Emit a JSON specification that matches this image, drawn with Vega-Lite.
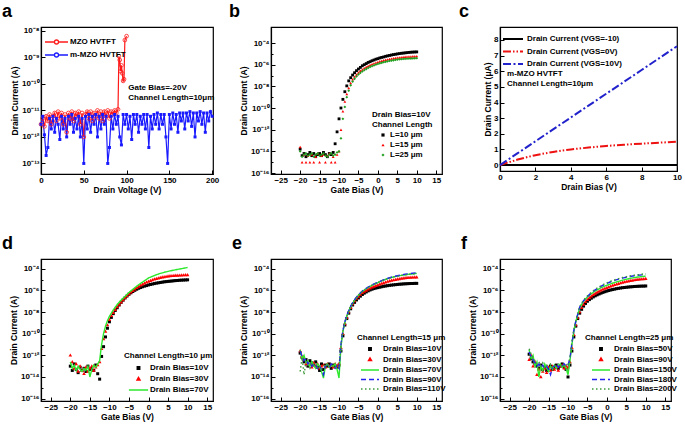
{
"$schema":"https://vega.github.io/schema/vega-lite/v6.json",
"padding":{"left":1,"top":2,"right":2,"bottom":2},
"background":"white",
"columns":3,
"spacing":{"row":85,"column":58},
"bounds":"flush",
"resolve":{"scale":{"x":"independent","y":"independent","color":"independent","shape":"independent","strokeDash":"independent"},"legend":{"color":"independent","shape":"independent","strokeDash":"independent"}},
"datasets":{
"pa":[
{"s":"MZO","x":0,"y":3e-12},{"s":"MZO","x":2,"y":5e-12},{"s":"MZO","x":4,"y":2.5e-12},{"s":"MZO","x":6,"y":6e-12},{"s":"MZO","x":8,"y":4e-12},{"s":"MZO","x":10,"y":7e-12},{"s":"MZO","x":12,"y":3e-12},{"s":"MZO","x":14,"y":6e-12},{"s":"MZO","x":16,"y":8e-12},{"s":"MZO","x":18,"y":4e-12},{"s":"MZO","x":20,"y":9e-12},{"s":"MZO","x":22,"y":5e-12},{"s":"MZO","x":24,"y":8e-12},{"s":"MZO","x":26,"y":3e-12},{"s":"MZO","x":28,"y":7e-12},{"s":"MZO","x":30,"y":1.5e-12},{"s":"MZO","x":32,"y":8e-12},{"s":"MZO","x":34,"y":5e-12},{"s":"MZO","x":36,"y":9e-12},{"s":"MZO","x":38,"y":4e-12},{"s":"MZO","x":40,"y":8e-12},{"s":"MZO","x":42,"y":6e-12},{"s":"MZO","x":44,"y":9e-12},{"s":"MZO","x":46,"y":3e-12},{"s":"MZO","x":48,"y":8e-12},{"s":"MZO","x":50,"y":1e-12},{"s":"MZO","x":52,"y":7e-12},{"s":"MZO","x":54,"y":9e-12},{"s":"MZO","x":56,"y":5e-12},{"s":"MZO","x":58,"y":9e-12},{"s":"MZO","x":60,"y":4e-12},{"s":"MZO","x":62,"y":8e-12},{"s":"MZO","x":64,"y":6e-12},{"s":"MZO","x":66,"y":1e-11},{"s":"MZO","x":68,"y":5e-12},{"s":"MZO","x":70,"y":9e-12},{"s":"MZO","x":72,"y":4e-12},{"s":"MZO","x":74,"y":9e-12},{"s":"MZO","x":76,"y":6e-12},{"s":"MZO","x":78,"y":1e-11},{"s":"MZO","x":80,"y":5e-12},{"s":"MZO","x":82,"y":9e-12},{"s":"MZO","x":84,"y":7e-12},{"s":"MZO","x":86,"y":1e-11},{"s":"MZO","x":88,"y":8e-12},{"s":"MZO","x":90,"y":1.1e-11},{"s":"MZO","x":91,"y":1.1e-9},{"s":"MZO","x":92,"y":8e-10},{"s":"MZO","x":93,"y":3e-10},{"s":"MZO","x":94,"y":5e-10},{"s":"MZO","x":95,"y":2.5e-10},{"s":"MZO","x":96,"y":1.3e-10},{"s":"MZO","x":97,"y":1.5e-10},{"s":"MZO","x":98,"y":4.5e-9},{"s":"MZO","x":100,"y":6.3e-9},
{"s":"m-MZO","x":0,"y":3e-12},{"s":"m-MZO","x":2,"y":6e-12},{"s":"m-MZO","x":4,"y":1.2e-12},{"s":"m-MZO","x":6,"y":2e-13},{"s":"m-MZO","x":8,"y":4e-13},{"s":"m-MZO","x":10,"y":5e-12},{"s":"m-MZO","x":12,"y":2e-12},{"s":"m-MZO","x":14,"y":6e-12},{"s":"m-MZO","x":16,"y":1.5e-12},{"s":"m-MZO","x":18,"y":5e-12},{"s":"m-MZO","x":20,"y":3e-12},{"s":"m-MZO","x":22,"y":8e-13},{"s":"m-MZO","x":24,"y":6e-12},{"s":"m-MZO","x":26,"y":2e-12},{"s":"m-MZO","x":28,"y":5e-12},{"s":"m-MZO","x":30,"y":1e-12},{"s":"m-MZO","x":32,"y":6e-12},{"s":"m-MZO","x":34,"y":3e-12},{"s":"m-MZO","x":36,"y":7e-12},{"s":"m-MZO","x":38,"y":1.5e-12},{"s":"m-MZO","x":40,"y":5e-12},{"s":"m-MZO","x":42,"y":2e-12},{"s":"m-MZO","x":44,"y":6e-12},{"s":"m-MZO","x":46,"y":1e-12},{"s":"m-MZO","x":48,"y":5e-12},{"s":"m-MZO","x":50,"y":1e-13},{"s":"m-MZO","x":52,"y":6e-12},{"s":"m-MZO","x":54,"y":2e-12},{"s":"m-MZO","x":56,"y":7e-12},{"s":"m-MZO","x":58,"y":1.5e-12},{"s":"m-MZO","x":60,"y":6e-12},{"s":"m-MZO","x":62,"y":3e-12},{"s":"m-MZO","x":64,"y":7e-12},{"s":"m-MZO","x":66,"y":1e-12},{"s":"m-MZO","x":68,"y":6e-12},{"s":"m-MZO","x":70,"y":2e-12},{"s":"m-MZO","x":72,"y":7e-12},{"s":"m-MZO","x":74,"y":3e-12},{"s":"m-MZO","x":76,"y":6e-12},{"s":"m-MZO","x":78,"y":1e-13},{"s":"m-MZO","x":80,"y":4e-13},{"s":"m-MZO","x":82,"y":6e-12},{"s":"m-MZO","x":84,"y":2e-12},{"s":"m-MZO","x":86,"y":7e-12},{"s":"m-MZO","x":88,"y":3e-12},{"s":"m-MZO","x":90,"y":6e-12},{"s":"m-MZO","x":92,"y":1e-12},{"s":"m-MZO","x":94,"y":5e-13},{"s":"m-MZO","x":96,"y":7e-12},{"s":"m-MZO","x":98,"y":3e-12},{"s":"m-MZO","x":100,"y":7e-12},{"s":"m-MZO","x":102,"y":2e-12},{"s":"m-MZO","x":104,"y":6e-12},{"s":"m-MZO","x":106,"y":8e-13},{"s":"m-MZO","x":108,"y":7e-12},{"s":"m-MZO","x":110,"y":3e-12},{"s":"m-MZO","x":112,"y":7e-12},{"s":"m-MZO","x":114,"y":1.5e-12},{"s":"m-MZO","x":116,"y":6e-12},{"s":"m-MZO","x":118,"y":3e-12},{"s":"m-MZO","x":120,"y":7e-12},{"s":"m-MZO","x":122,"y":2e-12},{"s":"m-MZO","x":124,"y":7e-12},{"s":"m-MZO","x":126,"y":4e-13},{"s":"m-MZO","x":128,"y":6e-12},{"s":"m-MZO","x":130,"y":2e-12},{"s":"m-MZO","x":132,"y":7e-12},{"s":"m-MZO","x":134,"y":3e-12},{"s":"m-MZO","x":136,"y":8e-12},{"s":"m-MZO","x":138,"y":2e-12},{"s":"m-MZO","x":140,"y":7e-12},{"s":"m-MZO","x":142,"y":3e-12},{"s":"m-MZO","x":144,"y":7e-12},{"s":"m-MZO","x":146,"y":1e-12},{"s":"m-MZO","x":148,"y":1e-13},{"s":"m-MZO","x":150,"y":7e-12},{"s":"m-MZO","x":152,"y":2e-12},{"s":"m-MZO","x":154,"y":8e-12},{"s":"m-MZO","x":156,"y":3e-12},{"s":"m-MZO","x":158,"y":7e-12},{"s":"m-MZO","x":160,"y":1.5e-12},{"s":"m-MZO","x":162,"y":8e-12},{"s":"m-MZO","x":164,"y":4e-12},{"s":"m-MZO","x":166,"y":8e-12},{"s":"m-MZO","x":168,"y":2e-12},{"s":"m-MZO","x":170,"y":8e-12},{"s":"m-MZO","x":172,"y":4e-12},{"s":"m-MZO","x":174,"y":9e-12},{"s":"m-MZO","x":176,"y":2.5e-12},{"s":"m-MZO","x":178,"y":8e-12},{"s":"m-MZO","x":180,"y":1e-12},{"s":"m-MZO","x":182,"y":8e-12},{"s":"m-MZO","x":184,"y":4e-12},{"s":"m-MZO","x":186,"y":9e-12},{"s":"m-MZO","x":188,"y":3e-12},{"s":"m-MZO","x":190,"y":8e-12},{"s":"m-MZO","x":192,"y":1.5e-12},{"s":"m-MZO","x":194,"y":8e-12},{"s":"m-MZO","x":196,"y":4e-12},{"s":"m-MZO","x":198,"y":9e-12},{"s":"m-MZO","x":200,"y":6e-12}
],
"pb":[
{"s":"10","x":-20,"y":1.6e-14},{"s":"10","x":-19.5,"y":4e-15},{"s":"10","x":-19,"y":6.3e-15},{"s":"10","x":-18.5,"y":3.2e-15},{"s":"10","x":-18,"y":5e-15},{"s":"10","x":-17.5,"y":7.9e-15},{"s":"10","x":-17,"y":4e-15},{"s":"10","x":-16.5,"y":6.3e-15},{"s":"10","x":-16,"y":3.2e-15},{"s":"10","x":-15.5,"y":5e-15},{"s":"10","x":-15,"y":6.3e-15},{"s":"10","x":-14.5,"y":4e-15},{"s":"10","x":-14,"y":7.9e-15},{"s":"10","x":-13.5,"y":5e-15},{"s":"10","x":-13,"y":3.2e-15},{"s":"10","x":-12.5,"y":6.3e-15},{"s":"10","x":-12,"y":5e-15},{"s":"10","x":-11.5,"y":7.9e-15},{"s":"10","x":-11,"y":5e-14},{"s":"10","x":-10.5,"y":6.3e-13},{"s":"10","x":-10,"y":1e-11},{"s":"10","x":-9.5,"y":1e-10},{"s":"10","x":-9,"y":6.3e-10},{"s":"10","x":-8.5,"y":3.2e-9},{"s":"10","x":-8,"y":1.1e-8},{"s":"10","x":-7.5,"y":3.2e-8},{"s":"10","x":-7,"y":6.3e-8},{"s":"10","x":-6.5,"y":1.1e-7},{"s":"10","x":-6,"y":1.8e-7},{"s":"10","x":-5.5,"y":2.8e-7},{"s":"10","x":-5,"y":4e-7},{"s":"10","x":-4.5,"y":5.6e-7},{"s":"10","x":-4,"y":7.9e-7},{"s":"10","x":-3.5,"y":1e-6},{"s":"10","x":-3,"y":1.26e-6},{"s":"10","x":-2.5,"y":1.6e-6},{"s":"10","x":-2,"y":1.9e-6},{"s":"10","x":-1.5,"y":2.3e-6},{"s":"10","x":-1,"y":2.7e-6},{"s":"10","x":-0.5,"y":3.2e-6},{"s":"10","x":0,"y":3.6e-6},{"s":"10","x":0.5,"y":4.2e-6},{"s":"10","x":1,"y":4.7e-6},{"s":"10","x":1.5,"y":5.2e-6},{"s":"10","x":2,"y":5.9e-6},{"s":"10","x":2.5,"y":6.5e-6},{"s":"10","x":3,"y":7.1e-6},{"s":"10","x":3.5,"y":7.8e-6},{"s":"10","x":4,"y":8.5e-6},{"s":"10","x":4.5,"y":9.1e-6},{"s":"10","x":5,"y":9.8e-6},{"s":"10","x":5.5,"y":1.05e-5},{"s":"10","x":6,"y":1.12e-5},{"s":"10","x":6.5,"y":1.17e-5},{"s":"10","x":7,"y":1.23e-5},{"s":"10","x":7.5,"y":1.29e-5},{"s":"10","x":8,"y":1.35e-5},{"s":"10","x":8.5,"y":1.41e-5},{"s":"10","x":9,"y":1.45e-5},{"s":"10","x":9.5,"y":1.48e-5},{"s":"10","x":10,"y":1.51e-5},
{"s":"15","x":-20,"y":2.5e-14},{"s":"15","x":-19.5,"y":1e-15},{"s":"15","x":-19,"y":5e-15},{"s":"15","x":-18.5,"y":1e-15},{"s":"15","x":-18,"y":4e-15},{"s":"15","x":-17.5,"y":1e-15},{"s":"15","x":-17,"y":5e-15},{"s":"15","x":-16.5,"y":1e-15},{"s":"15","x":-16,"y":3.2e-15},{"s":"15","x":-15.5,"y":6.3e-15},{"s":"15","x":-15,"y":1e-15},{"s":"15","x":-14.5,"y":4e-15},{"s":"15","x":-14,"y":5e-15},{"s":"15","x":-13.5,"y":1e-15},{"s":"15","x":-13,"y":4e-15},{"s":"15","x":-12.5,"y":6.3e-15},{"s":"15","x":-12,"y":1e-15},{"s":"15","x":-11.5,"y":3.2e-15},{"s":"15","x":-11,"y":1e-15},{"s":"15","x":-10.5,"y":5e-15},{"s":"15","x":-10,"y":1e-14},{"s":"15","x":-9.5,"y":1e-12},{"s":"15","x":-9,"y":5e-11},{"s":"15","x":-8.5,"y":4e-10},{"s":"15","x":-8,"y":2e-9},{"s":"15","x":-7.5,"y":7.1e-9},{"s":"15","x":-7,"y":2e-8},{"s":"15","x":-6.5,"y":4.5e-8},{"s":"15","x":-6,"y":7.9e-8},{"s":"15","x":-5.5,"y":1.26e-7},{"s":"15","x":-5,"y":1.9e-7},{"s":"15","x":-4.5,"y":2.7e-7},{"s":"15","x":-4,"y":3.6e-7},{"s":"15","x":-3.5,"y":4.8e-7},{"s":"15","x":-3,"y":6e-7},{"s":"15","x":-2.5,"y":7.6e-7},{"s":"15","x":-2,"y":9.3e-7},{"s":"15","x":-1.5,"y":1.12e-6},{"s":"15","x":-1,"y":1.32e-6},{"s":"15","x":-0.5,"y":1.55e-6},{"s":"15","x":0,"y":1.78e-6},{"s":"15","x":0.5,"y":2.04e-6},{"s":"15","x":1,"y":2.29e-6},{"s":"15","x":1.5,"y":2.57e-6},{"s":"15","x":2,"y":2.82e-6},{"s":"15","x":2.5,"y":3.09e-6},{"s":"15","x":3,"y":3.39e-6},{"s":"15","x":3.5,"y":3.63e-6},{"s":"15","x":4,"y":3.89e-6},{"s":"15","x":4.5,"y":4.17e-6},{"s":"15","x":5,"y":4.47e-6},{"s":"15","x":5.5,"y":4.68e-6},{"s":"15","x":6,"y":4.9e-6},{"s":"15","x":6.5,"y":5.13e-6},{"s":"15","x":7,"y":5.37e-6},{"s":"15","x":7.5,"y":5.5e-6},{"s":"15","x":8,"y":5.62e-6},{"s":"15","x":8.5,"y":5.75e-6},{"s":"15","x":9,"y":5.89e-6},{"s":"15","x":9.5,"y":6.03e-6},{"s":"15","x":10,"y":6.17e-6},
{"s":"25","x":-20,"y":1e-14},{"s":"25","x":-19.5,"y":3.2e-15},{"s":"25","x":-19,"y":5e-15},{"s":"25","x":-18.5,"y":6.3e-15},{"s":"25","x":-18,"y":4e-15},{"s":"25","x":-17.5,"y":5e-15},{"s":"25","x":-17,"y":6.3e-15},{"s":"25","x":-16.5,"y":3.2e-15},{"s":"25","x":-16,"y":5e-15},{"s":"25","x":-15.5,"y":6.3e-15},{"s":"25","x":-15,"y":4e-15},{"s":"25","x":-14.5,"y":5e-15},{"s":"25","x":-14,"y":6.3e-15},{"s":"25","x":-13.5,"y":4e-15},{"s":"25","x":-13,"y":3.2e-15},{"s":"25","x":-12.5,"y":5e-15},{"s":"25","x":-12,"y":6.3e-15},{"s":"25","x":-11.5,"y":4e-15},{"s":"25","x":-11,"y":5e-15},{"s":"25","x":-10.5,"y":7.9e-15},{"s":"25","x":-10,"y":1e-14},{"s":"25","x":-9.5,"y":1.6e-13},{"s":"25","x":-9,"y":1e-11},{"s":"25","x":-8.5,"y":1.26e-10},{"s":"25","x":-8,"y":1e-9},{"s":"25","x":-7.5,"y":4e-9},{"s":"25","x":-7,"y":1.26e-8},{"s":"25","x":-6.5,"y":2.8e-8},{"s":"25","x":-6,"y":5e-8},{"s":"25","x":-5.5,"y":8.3e-8},{"s":"25","x":-5,"y":1.26e-7},{"s":"25","x":-4.5,"y":1.78e-7},{"s":"25","x":-4,"y":2.4e-7},{"s":"25","x":-3.5,"y":3.16e-7},{"s":"25","x":-3,"y":4e-7},{"s":"25","x":-2.5,"y":5e-7},{"s":"25","x":-2,"y":6.2e-7},{"s":"25","x":-1.5,"y":7.4e-7},{"s":"25","x":-1,"y":8.7e-7},{"s":"25","x":-0.5,"y":1.02e-6},{"s":"25","x":0,"y":1.17e-6},{"s":"25","x":0.5,"y":1.35e-6},{"s":"25","x":1,"y":1.51e-6},{"s":"25","x":1.5,"y":1.7e-6},{"s":"25","x":2,"y":1.86e-6},{"s":"25","x":2.5,"y":2.04e-6},{"s":"25","x":3,"y":2.24e-6},{"s":"25","x":3.5,"y":2.4e-6},{"s":"25","x":4,"y":2.57e-6},{"s":"25","x":4.5,"y":2.75e-6},{"s":"25","x":5,"y":2.95e-6},{"s":"25","x":5.5,"y":3.09e-6},{"s":"25","x":6,"y":3.24e-6},{"s":"25","x":6.5,"y":3.39e-6},{"s":"25","x":7,"y":3.47e-6},{"s":"25","x":7.5,"y":3.55e-6},{"s":"25","x":8,"y":3.63e-6},{"s":"25","x":8.5,"y":3.72e-6},{"s":"25","x":9,"y":3.8e-6},{"s":"25","x":9.5,"y":3.89e-6},{"s":"25","x":10,"y":3.98e-6}
],
"pc":[
{"s":"-10","x":0,"y":0},{"s":"-10","x":5,"y":0},{"s":"-10","x":10,"y":0},
{"s":"0V","x":0,"y":0},{"s":"0V","x":0.5,"y":0.18},{"s":"0V","x":1,"y":0.35},{"s":"0V","x":1.5,"y":0.5},{"s":"0V","x":2,"y":0.63},{"s":"0V","x":2.5,"y":0.74},{"s":"0V","x":3,"y":0.84},{"s":"0V","x":3.5,"y":0.93},{"s":"0V","x":4,"y":1.0},{"s":"0V","x":5,"y":1.12},{"s":"0V","x":6,"y":1.22},{"s":"0V","x":7,"y":1.3},{"s":"0V","x":8,"y":1.37},{"s":"0V","x":9,"y":1.43},{"s":"0V","x":10,"y":1.5},
{"s":"10V","x":0,"y":0},{"s":"10V","x":1,"y":0.76},{"s":"10V","x":2,"y":1.52},{"s":"10V","x":3,"y":2.28},{"s":"10V","x":4,"y":3.04},{"s":"10V","x":5,"y":3.8},{"s":"10V","x":6,"y":4.56},{"s":"10V","x":7,"y":5.32},{"s":"10V","x":8,"y":6.08},{"s":"10V","x":9,"y":6.84},{"s":"10V","x":10,"y":7.6}
],
"pd":[
{"s":"10V","x":-20,"y":1e-13},{"s":"10V","x":-19.5,"y":4e-14},{"s":"10V","x":-19,"y":1.6e-13},{"s":"10V","x":-18.5,"y":5e-14},{"s":"10V","x":-18,"y":2.5e-14},{"s":"10V","x":-17.5,"y":7.9e-14},{"s":"10V","x":-17,"y":4e-14},{"s":"10V","x":-16.5,"y":6.3e-14},{"s":"10V","x":-16,"y":3.2e-14},{"s":"10V","x":-15.5,"y":1e-13},{"s":"10V","x":-15,"y":5e-14},{"s":"10V","x":-14.5,"y":6.3e-14},{"s":"10V","x":-14,"y":4e-14},{"s":"10V","x":-13.5,"y":1.26e-13},{"s":"10V","x":-13,"y":2e-14},{"s":"10V","x":-12.5,"y":6.3e-15},{"s":"10V","x":-12,"y":7.9e-13},{"s":"10V","x":-11.5,"y":6.3e-12},{"s":"10V","x":-11,"y":5e-11},{"s":"10V","x":-10.5,"y":3.2e-10},{"s":"10V","x":-10,"y":1.26e-9},{"s":"10V","x":-9.5,"y":3.2e-9},{"s":"10V","x":-9,"y":7.1e-9},{"s":"10V","x":-8.5,"y":1.41e-8},{"s":"10V","x":-8,"y":2.5e-8},{"s":"10V","x":-7.5,"y":4.5e-8},{"s":"10V","x":-7,"y":7.9e-8},{"s":"10V","x":-6.5,"y":1.26e-7},{"s":"10V","x":-6,"y":2e-7},{"s":"10V","x":-5.5,"y":3e-7},{"s":"10V","x":-5,"y":4.4e-7},{"s":"10V","x":-4.5,"y":6e-7},{"s":"10V","x":-4,"y":7.9e-7},{"s":"10V","x":-3.5,"y":1.02e-6},{"s":"10V","x":-3,"y":1.29e-6},{"s":"10V","x":-2.5,"y":1.58e-6},{"s":"10V","x":-2,"y":1.86e-6},{"s":"10V","x":-1.5,"y":2.19e-6},{"s":"10V","x":-1,"y":2.5e-6},{"s":"10V","x":-0.5,"y":2.8e-6},{"s":"10V","x":0,"y":3.2e-6},{"s":"10V","x":0.5,"y":3.55e-6},{"s":"10V","x":1,"y":3.9e-6},{"s":"10V","x":1.5,"y":4.27e-6},{"s":"10V","x":2,"y":4.68e-6},{"s":"10V","x":2.5,"y":5e-6},{"s":"10V","x":3,"y":5.4e-6},{"s":"10V","x":3.5,"y":5.75e-6},{"s":"10V","x":4,"y":6.2e-6},{"s":"10V","x":4.5,"y":6.5e-6},{"s":"10V","x":5,"y":6.8e-6},{"s":"10V","x":5.5,"y":7.1e-6},{"s":"10V","x":6,"y":7.4e-6},{"s":"10V","x":6.5,"y":7.8e-6},{"s":"10V","x":7,"y":8.1e-6},{"s":"10V","x":7.5,"y":8.3e-6},{"s":"10V","x":8,"y":8.7e-6},{"s":"10V","x":8.5,"y":8.9e-6},{"s":"10V","x":9,"y":9.1e-6},{"s":"10V","x":9.5,"y":9.3e-6},{"s":"10V","x":10,"y":9.5e-6},
{"s":"30V","x":-20,"y":1e-12},{"s":"30V","x":-19.5,"y":2.5e-13},{"s":"30V","x":-19,"y":6.3e-14},{"s":"30V","x":-18.5,"y":1.6e-13},{"s":"30V","x":-18,"y":3.2e-14},{"s":"30V","x":-17.5,"y":1e-13},{"s":"30V","x":-17,"y":4e-14},{"s":"30V","x":-16.5,"y":2e-14},{"s":"30V","x":-16,"y":7.9e-14},{"s":"30V","x":-15.5,"y":3.2e-14},{"s":"30V","x":-15,"y":6.3e-14},{"s":"30V","x":-14.5,"y":1e-13},{"s":"30V","x":-14,"y":4e-14},{"s":"30V","x":-13.5,"y":7.9e-14},{"s":"30V","x":-13,"y":1.26e-13},{"s":"30V","x":-12.5,"y":2.5e-13},{"s":"30V","x":-12,"y":4e-12},{"s":"30V","x":-11.5,"y":3.2e-11},{"s":"30V","x":-11,"y":1.6e-10},{"s":"30V","x":-10.5,"y":6.3e-10},{"s":"30V","x":-10,"y":2e-9},{"s":"30V","x":-9.5,"y":4.5e-9},{"s":"30V","x":-9,"y":8.9e-9},{"s":"30V","x":-8.5,"y":1.66e-8},{"s":"30V","x":-8,"y":2.95e-8},{"s":"30V","x":-7.5,"y":5e-8},{"s":"30V","x":-7,"y":8.3e-8},{"s":"30V","x":-6.5,"y":1.32e-7},{"s":"30V","x":-6,"y":2.1e-7},{"s":"30V","x":-5.5,"y":3.16e-7},{"s":"30V","x":-5,"y":4.7e-7},{"s":"30V","x":-4.5,"y":6.8e-7},{"s":"30V","x":-4,"y":9.5e-7},{"s":"30V","x":-3.5,"y":1.32e-6},{"s":"30V","x":-3,"y":1.78e-6},{"s":"30V","x":-2.5,"y":2.34e-6},{"s":"30V","x":-2,"y":3e-6},{"s":"30V","x":-1.5,"y":3.8e-6},{"s":"30V","x":-1,"y":4.7e-6},{"s":"30V","x":-0.5,"y":5.75e-6},{"s":"30V","x":0,"y":6.9e-6},{"s":"30V","x":0.5,"y":8.1e-6},{"s":"30V","x":1,"y":9.5e-6},{"s":"30V","x":1.5,"y":1.1e-5},{"s":"30V","x":2,"y":1.23e-5},{"s":"30V","x":2.5,"y":1.38e-5},{"s":"30V","x":3,"y":1.51e-5},{"s":"30V","x":3.5,"y":1.66e-5},{"s":"30V","x":4,"y":1.78e-5},{"s":"30V","x":4.5,"y":1.9e-5},{"s":"30V","x":5,"y":2.04e-5},{"s":"30V","x":5.5,"y":2.14e-5},{"s":"30V","x":6,"y":2.24e-5},{"s":"30V","x":6.5,"y":2.34e-5},{"s":"30V","x":7,"y":2.4e-5},{"s":"30V","x":7.5,"y":2.45e-5},{"s":"30V","x":8,"y":2.5e-5},{"s":"30V","x":8.5,"y":2.57e-5},{"s":"30V","x":9,"y":2.63e-5},{"s":"30V","x":9.5,"y":2.69e-5},{"s":"30V","x":10,"y":2.75e-5},
{"s":"70V","x":-20,"y":2.5e-13},{"s":"70V","x":-19.5,"y":6.3e-14},{"s":"70V","x":-19,"y":1.26e-13},{"s":"70V","x":-18.5,"y":4e-14},{"s":"70V","x":-18,"y":1e-13},{"s":"70V","x":-17.5,"y":5e-14},{"s":"70V","x":-17,"y":3.2e-14},{"s":"70V","x":-16.5,"y":6.3e-14},{"s":"70V","x":-16,"y":4e-14},{"s":"70V","x":-15.5,"y":1e-13},{"s":"70V","x":-15,"y":1e-14},{"s":"70V","x":-14.5,"y":5e-14},{"s":"70V","x":-14,"y":1.26e-13},{"s":"70V","x":-13.5,"y":7.9e-14},{"s":"70V","x":-13,"y":1.6e-13},{"s":"70V","x":-12.5,"y":3.2e-13},{"s":"70V","x":-12,"y":1e-11},{"s":"70V","x":-11.5,"y":1e-10},{"s":"70V","x":-11,"y":5e-10},{"s":"70V","x":-10.5,"y":1.6e-9},{"s":"70V","x":-10,"y":4e-9},{"s":"70V","x":-9,"y":1.6e-8},{"s":"70V","x":-8,"y":5e-8},{"s":"70V","x":-7,"y":1.26e-7},{"s":"70V","x":-6,"y":2.8e-7},{"s":"70V","x":-5,"y":6.3e-7},{"s":"70V","x":-4,"y":1.26e-6},{"s":"70V","x":-3,"y":2.5e-6},{"s":"70V","x":-2,"y":4.5e-6},{"s":"70V","x":-1,"y":7.9e-6},{"s":"70V","x":0,"y":1.41e-5},{"s":"70V","x":1,"y":2e-5},{"s":"70V","x":2,"y":2.8e-5},{"s":"70V","x":3,"y":3.7e-5},{"s":"70V","x":4,"y":4.7e-5},{"s":"70V","x":5,"y":5.75e-5},{"s":"70V","x":6,"y":6.9e-5},{"s":"70V","x":7,"y":8.1e-5},{"s":"70V","x":8,"y":9.5e-5},{"s":"70V","x":9,"y":1.12e-4},{"s":"70V","x":10,"y":1.32e-4}
],
"pe":[
{"s":"10V","x":-20,"y":1.6e-12},{"s":"10V","x":-19.5,"y":6.3e-13},{"s":"10V","x":-19,"y":2.5e-13},{"s":"10V","x":-18.5,"y":4e-13},{"s":"10V","x":-18,"y":1e-13},{"s":"10V","x":-17.5,"y":3.2e-13},{"s":"10V","x":-17,"y":2e-13},{"s":"10V","x":-16.5,"y":1.26e-13},{"s":"10V","x":-16,"y":2.5e-13},{"s":"10V","x":-15.5,"y":7.9e-14},{"s":"10V","x":-15,"y":4e-14},{"s":"10V","x":-14.5,"y":1.6e-13},{"s":"10V","x":-14,"y":5e-14},{"s":"10V","x":-13.5,"y":1.26e-13},{"s":"10V","x":-13,"y":1e-13},{"s":"10V","x":-12.5,"y":1.6e-13},{"s":"10V","x":-12,"y":6.3e-14},{"s":"10V","x":-11.5,"y":1.26e-13},{"s":"10V","x":-11,"y":1e-13},{"s":"10V","x":-10.5,"y":7.9e-14},{"s":"10V","x":-10,"y":1.26e-13},{"s":"10V","x":-9.5,"y":2.5e-12},{"s":"10V","x":-9,"y":6.3e-11},{"s":"10V","x":-8.5,"y":6.3e-10},{"s":"10V","x":-8,"y":2.5e-9},{"s":"10V","x":-7.5,"y":7.9e-9},{"s":"10V","x":-7,"y":2e-8},{"s":"10V","x":-6.5,"y":4.5e-8},{"s":"10V","x":-6,"y":7.9e-8},{"s":"10V","x":-5.5,"y":1.32e-7},{"s":"10V","x":-5,"y":2e-7},{"s":"10V","x":-4.5,"y":2.95e-7},{"s":"10V","x":-4,"y":4.17e-7},{"s":"10V","x":-3.5,"y":5.6e-7},{"s":"10V","x":-3,"y":7.2e-7},{"s":"10V","x":-2.5,"y":9.1e-7},{"s":"10V","x":-2,"y":1.1e-6},{"s":"10V","x":-1.5,"y":1.29e-6},{"s":"10V","x":-1,"y":1.48e-6},{"s":"10V","x":-0.5,"y":1.66e-6},{"s":"10V","x":0,"y":1.82e-6},{"s":"10V","x":0.5,"y":2e-6},{"s":"10V","x":1,"y":2.19e-6},{"s":"10V","x":1.5,"y":2.4e-6},{"s":"10V","x":2,"y":2.57e-6},{"s":"10V","x":2.5,"y":2.75e-6},{"s":"10V","x":3,"y":2.95e-6},{"s":"10V","x":3.5,"y":3.09e-6},{"s":"10V","x":4,"y":3.24e-6},{"s":"10V","x":4.5,"y":3.39e-6},{"s":"10V","x":5,"y":3.55e-6},{"s":"10V","x":5.5,"y":3.72e-6},{"s":"10V","x":6,"y":3.8e-6},{"s":"10V","x":6.5,"y":3.98e-6},{"s":"10V","x":7,"y":4.07e-6},{"s":"10V","x":7.5,"y":4.17e-6},{"s":"10V","x":8,"y":4.27e-6},{"s":"10V","x":8.5,"y":4.37e-6},{"s":"10V","x":9,"y":4.37e-6},{"s":"10V","x":9.5,"y":4.47e-6},{"s":"10V","x":10,"y":4.47e-6},
{"s":"30V","x":-20,"y":2.5e-12},{"s":"30V","x":-19.5,"y":7.9e-13},{"s":"30V","x":-19,"y":4e-13},{"s":"30V","x":-18.5,"y":1.6e-13},{"s":"30V","x":-18,"y":2.5e-13},{"s":"30V","x":-17.5,"y":1.26e-13},{"s":"30V","x":-17,"y":7.9e-14},{"s":"30V","x":-16.5,"y":2e-13},{"s":"30V","x":-16,"y":1e-13},{"s":"30V","x":-15.5,"y":1.6e-13},{"s":"30V","x":-15,"y":6.3e-14},{"s":"30V","x":-14.5,"y":1e-13},{"s":"30V","x":-14,"y":1.26e-13},{"s":"30V","x":-13.5,"y":7.9e-14},{"s":"30V","x":-13,"y":1.6e-13},{"s":"30V","x":-12.5,"y":1e-13},{"s":"30V","x":-12,"y":1.26e-13},{"s":"30V","x":-11.5,"y":7.9e-14},{"s":"30V","x":-11,"y":1.6e-13},{"s":"30V","x":-10.5,"y":1e-13},{"s":"30V","x":-10,"y":1.6e-13},{"s":"30V","x":-9.5,"y":5e-12},{"s":"30V","x":-9,"y":1e-10},{"s":"30V","x":-8.5,"y":7.9e-10},{"s":"30V","x":-8,"y":3.2e-9},{"s":"30V","x":-7.5,"y":1e-8},{"s":"30V","x":-7,"y":2.5e-8},{"s":"30V","x":-6.5,"y":5.6e-8},{"s":"30V","x":-6,"y":1.05e-7},{"s":"30V","x":-5.5,"y":1.78e-7},{"s":"30V","x":-5,"y":2.75e-7},{"s":"30V","x":-4.5,"y":4.17e-7},{"s":"30V","x":-4,"y":6e-7},{"s":"30V","x":-3.5,"y":7.9e-7},{"s":"30V","x":-3,"y":1e-6},{"s":"30V","x":-2.5,"y":1.26e-6},{"s":"30V","x":-2,"y":1.58e-6},{"s":"30V","x":-1.5,"y":1.95e-6},{"s":"30V","x":-1,"y":2.34e-6},{"s":"30V","x":-0.5,"y":2.75e-6},{"s":"30V","x":0,"y":3.24e-6},{"s":"30V","x":0.5,"y":3.8e-6},{"s":"30V","x":1,"y":4.37e-6},{"s":"30V","x":1.5,"y":5e-6},{"s":"30V","x":2,"y":5.75e-6},{"s":"30V","x":2.5,"y":6.6e-6},{"s":"30V","x":3,"y":7.4e-6},{"s":"30V","x":3.5,"y":8.3e-6},{"s":"30V","x":4,"y":9.1e-6},{"s":"30V","x":4.5,"y":1e-5},{"s":"30V","x":5,"y":1.1e-5},{"s":"30V","x":5.5,"y":1.17e-5},{"s":"30V","x":6,"y":1.26e-5},{"s":"30V","x":6.5,"y":1.35e-5},{"s":"30V","x":7,"y":1.41e-5},{"s":"30V","x":7.5,"y":1.48e-5},{"s":"30V","x":8,"y":1.55e-5},{"s":"30V","x":8.5,"y":1.58e-5},{"s":"30V","x":9,"y":1.62e-5},{"s":"30V","x":9.5,"y":1.66e-5},{"s":"30V","x":10,"y":1.7e-5},
{"s":"70V","x":-20,"y":3.2e-12},{"s":"70V","x":-19.5,"y":5e-13},{"s":"70V","x":-19,"y":1e-12},{"s":"70V","x":-18.5,"y":2e-13},{"s":"70V","x":-18,"y":3.2e-13},{"s":"70V","x":-17.5,"y":1e-13},{"s":"70V","x":-17,"y":2.5e-13},{"s":"70V","x":-16.5,"y":1.26e-13},{"s":"70V","x":-16,"y":6.3e-14},{"s":"70V","x":-15.5,"y":1.6e-13},{"s":"70V","x":-15,"y":1e-13},{"s":"70V","x":-14.5,"y":3.2e-14},{"s":"70V","x":-14,"y":7.9e-15},{"s":"70V","x":-13.5,"y":1e-13},{"s":"70V","x":-13,"y":1.6e-13},{"s":"70V","x":-12.5,"y":7.9e-14},{"s":"70V","x":-12,"y":1.26e-13},{"s":"70V","x":-11.5,"y":1e-13},{"s":"70V","x":-11,"y":1.6e-13},{"s":"70V","x":-10.5,"y":5e-14},{"s":"70V","x":-10,"y":7.9e-15},{"s":"70V","x":-9.5,"y":6.3e-12},{"s":"70V","x":-9,"y":1.6e-10},{"s":"70V","x":-8.5,"y":1e-9},{"s":"70V","x":-8,"y":4e-9},{"s":"70V","x":-7,"y":3.2e-8},{"s":"70V","x":-6,"y":1.26e-7},{"s":"70V","x":-5,"y":3.55e-7},{"s":"70V","x":-4,"y":7.9e-7},{"s":"70V","x":-3,"y":1.41e-6},{"s":"70V","x":-2,"y":2.4e-6},{"s":"70V","x":-1,"y":3.55e-6},{"s":"70V","x":0,"y":5.25e-6},{"s":"70V","x":1,"y":7.6e-6},{"s":"70V","x":2,"y":1.05e-5},{"s":"70V","x":3,"y":1.38e-5},{"s":"70V","x":4,"y":1.74e-5},{"s":"70V","x":5,"y":2.09e-5},{"s":"70V","x":6,"y":2.45e-5},{"s":"70V","x":7,"y":2.75e-5},{"s":"70V","x":8,"y":3.09e-5},{"s":"70V","x":9,"y":3.39e-5},{"s":"70V","x":10,"y":3.72e-5},
{"s":"90V","x":-20,"y":2.5e-12},{"s":"90V","x":-19.5,"y":7.9e-13},{"s":"90V","x":-19,"y":3.2e-13},{"s":"90V","x":-18.5,"y":5e-13},{"s":"90V","x":-18,"y":1.6e-13},{"s":"90V","x":-17.5,"y":2.5e-13},{"s":"90V","x":-17,"y":1e-13},{"s":"90V","x":-16.5,"y":1.6e-13},{"s":"90V","x":-16,"y":1.26e-13},{"s":"90V","x":-15.5,"y":6.3e-14},{"s":"90V","x":-15,"y":1.26e-13},{"s":"90V","x":-14.5,"y":5e-14},{"s":"90V","x":-14,"y":1.6e-14},{"s":"90V","x":-13.5,"y":1e-13},{"s":"90V","x":-13,"y":1.26e-13},{"s":"90V","x":-12.5,"y":7.9e-14},{"s":"90V","x":-12,"y":1.6e-13},{"s":"90V","x":-11.5,"y":1e-13},{"s":"90V","x":-11,"y":6.3e-14},{"s":"90V","x":-10.5,"y":1.26e-13},{"s":"90V","x":-10,"y":6.3e-14},{"s":"90V","x":-9.5,"y":1e-11},{"s":"90V","x":-9,"y":2e-10},{"s":"90V","x":-8.5,"y":1.26e-9},{"s":"90V","x":-8,"y":5e-9},{"s":"90V","x":-7,"y":3.55e-8},{"s":"90V","x":-6,"y":1.41e-7},{"s":"90V","x":-5,"y":4e-7},{"s":"90V","x":-4,"y":8.9e-7},{"s":"90V","x":-3,"y":1.58e-6},{"s":"90V","x":-2,"y":2.63e-6},{"s":"90V","x":-1,"y":4e-6},{"s":"90V","x":0,"y":5.75e-6},{"s":"90V","x":1,"y":8.1e-6},{"s":"90V","x":2,"y":1.12e-5},{"s":"90V","x":3,"y":1.48e-5},{"s":"90V","x":4,"y":1.86e-5},{"s":"90V","x":5,"y":2.29e-5},{"s":"90V","x":6,"y":2.69e-5},{"s":"90V","x":7,"y":3.09e-5},{"s":"90V","x":8,"y":3.47e-5},{"s":"90V","x":9,"y":3.9e-5},{"s":"90V","x":10,"y":4.27e-5},
{"s":"110V","x":-20,"y":3.2e-14},{"s":"110V","x":-19.5,"y":6.3e-13},{"s":"110V","x":-19,"y":1.6e-14},{"s":"110V","x":-18.5,"y":2.5e-13},{"s":"110V","x":-18,"y":1.26e-13},{"s":"110V","x":-17.5,"y":6.3e-14},{"s":"110V","x":-17,"y":1.6e-13},{"s":"110V","x":-16.5,"y":1e-13},{"s":"110V","x":-16,"y":2e-13},{"s":"110V","x":-15.5,"y":7.9e-14},{"s":"110V","x":-15,"y":1.26e-13},{"s":"110V","x":-14.5,"y":5e-14},{"s":"110V","x":-14,"y":1e-13},{"s":"110V","x":-13.5,"y":1.6e-13},{"s":"110V","x":-13,"y":7.9e-14},{"s":"110V","x":-12.5,"y":1.26e-13},{"s":"110V","x":-12,"y":1e-13},{"s":"110V","x":-11.5,"y":1.26e-13},{"s":"110V","x":-11,"y":7.9e-14},{"s":"110V","x":-10.5,"y":1e-13},{"s":"110V","x":-10,"y":1e-13},{"s":"110V","x":-9.5,"y":7.9e-12},{"s":"110V","x":-9,"y":1.78e-10},{"s":"110V","x":-8.5,"y":1.12e-9},{"s":"110V","x":-8,"y":4.5e-9},{"s":"110V","x":-7,"y":3.3e-8},{"s":"110V","x":-6,"y":1.32e-7},{"s":"110V","x":-5,"y":3.8e-7},{"s":"110V","x":-4,"y":8.5e-7},{"s":"110V","x":-3,"y":1.51e-6},{"s":"110V","x":-2,"y":2.5e-6},{"s":"110V","x":-1,"y":3.8e-6},{"s":"110V","x":0,"y":5.5e-6},{"s":"110V","x":1,"y":7.8e-6},{"s":"110V","x":2,"y":1.07e-5},{"s":"110V","x":3,"y":1.38e-5},{"s":"110V","x":4,"y":1.74e-5},{"s":"110V","x":5,"y":2.09e-5},{"s":"110V","x":6,"y":2.45e-5},{"s":"110V","x":7,"y":2.75e-5},{"s":"110V","x":8,"y":3.09e-5},{"s":"110V","x":9,"y":3.3e-5},{"s":"110V","x":10,"y":3.47e-5}
],
"pf":[
{"s":"50V","x":-20,"y":1.26e-12},{"s":"50V","x":-19.5,"y":5e-13},{"s":"50V","x":-19,"y":2.5e-13},{"s":"50V","x":-18.5,"y":1.6e-13},{"s":"50V","x":-18,"y":1e-13},{"s":"50V","x":-17.5,"y":6.3e-14},{"s":"50V","x":-17,"y":1.26e-13},{"s":"50V","x":-16.5,"y":5e-14},{"s":"50V","x":-16,"y":7.9e-14},{"s":"50V","x":-15.5,"y":4e-14},{"s":"50V","x":-15,"y":6.3e-14},{"s":"50V","x":-14.5,"y":1e-13},{"s":"50V","x":-14,"y":5e-14},{"s":"50V","x":-13.5,"y":7.9e-14},{"s":"50V","x":-13,"y":1.26e-13},{"s":"50V","x":-12.5,"y":6.3e-14},{"s":"50V","x":-12,"y":1e-13},{"s":"50V","x":-11.5,"y":1.6e-13},{"s":"50V","x":-11,"y":7.9e-14},{"s":"50V","x":-10.5,"y":5e-14},{"s":"50V","x":-10,"y":1e-14},{"s":"50V","x":-9.5,"y":1.26e-13},{"s":"50V","x":-9,"y":2.5e-12},{"s":"50V","x":-8.5,"y":5e-11},{"s":"50V","x":-8,"y":5e-10},{"s":"50V","x":-7.5,"y":2.5e-9},{"s":"50V","x":-7,"y":7.9e-9},{"s":"50V","x":-6.5,"y":1.78e-8},{"s":"50V","x":-6,"y":3.55e-8},{"s":"50V","x":-5.5,"y":6.3e-8},{"s":"50V","x":-5,"y":1e-7},{"s":"50V","x":-4.5,"y":1.41e-7},{"s":"50V","x":-4,"y":1.9e-7},{"s":"50V","x":-3.5,"y":2.5e-7},{"s":"50V","x":-3,"y":3.16e-7},{"s":"50V","x":-2.5,"y":3.9e-7},{"s":"50V","x":-2,"y":4.7e-7},{"s":"50V","x":-1.5,"y":5.6e-7},{"s":"50V","x":-1,"y":6.6e-7},{"s":"50V","x":-0.5,"y":7.6e-7},{"s":"50V","x":0,"y":8.7e-7},{"s":"50V","x":0.5,"y":9.8e-7},{"s":"50V","x":1,"y":1.1e-6},{"s":"50V","x":1.5,"y":1.2e-6},{"s":"50V","x":2,"y":1.32e-6},{"s":"50V","x":2.5,"y":1.45e-6},{"s":"50V","x":3,"y":1.55e-6},{"s":"50V","x":3.5,"y":1.66e-6},{"s":"50V","x":4,"y":1.78e-6},{"s":"50V","x":4.5,"y":1.86e-6},{"s":"50V","x":5,"y":1.95e-6},{"s":"50V","x":5.5,"y":2.04e-6},{"s":"50V","x":6,"y":2.14e-6},{"s":"50V","x":6.5,"y":2.19e-6},{"s":"50V","x":7,"y":2.29e-6},{"s":"50V","x":7.5,"y":2.34e-6},{"s":"50V","x":8,"y":2.4e-6},{"s":"50V","x":8.5,"y":2.45e-6},{"s":"50V","x":9,"y":2.5e-6},{"s":"50V","x":9.5,"y":2.5e-6},{"s":"50V","x":10,"y":2.57e-6},
{"s":"90V","x":-20,"y":4e-13},{"s":"90V","x":-19.5,"y":1e-12},{"s":"90V","x":-19,"y":1e-13},{"s":"90V","x":-18.5,"y":2.5e-13},{"s":"90V","x":-18,"y":1.6e-14},{"s":"90V","x":-17.5,"y":5e-14},{"s":"90V","x":-17,"y":1e-14},{"s":"90V","x":-16.5,"y":3.2e-14},{"s":"90V","x":-16,"y":6.3e-14},{"s":"90V","x":-15.5,"y":2.5e-14},{"s":"90V","x":-15,"y":7.9e-14},{"s":"90V","x":-14.5,"y":4e-14},{"s":"90V","x":-14,"y":1e-13},{"s":"90V","x":-13.5,"y":5e-14},{"s":"90V","x":-13,"y":7.9e-14},{"s":"90V","x":-12.5,"y":4e-14},{"s":"90V","x":-12,"y":1e-13},{"s":"90V","x":-11.5,"y":1.26e-13},{"s":"90V","x":-11,"y":6.3e-14},{"s":"90V","x":-10.5,"y":1e-13},{"s":"90V","x":-10,"y":7.9e-14},{"s":"90V","x":-9.5,"y":2.5e-13},{"s":"90V","x":-9,"y":5e-12},{"s":"90V","x":-8.5,"y":7.9e-11},{"s":"90V","x":-8,"y":6.3e-10},{"s":"90V","x":-7.5,"y":3.2e-9},{"s":"90V","x":-7,"y":1e-8},{"s":"90V","x":-6.5,"y":2.5e-8},{"s":"90V","x":-6,"y":5e-8},{"s":"90V","x":-5.5,"y":8.9e-8},{"s":"90V","x":-5,"y":1.41e-7},{"s":"90V","x":-4.5,"y":2.1e-7},{"s":"90V","x":-4,"y":2.95e-7},{"s":"90V","x":-3.5,"y":4e-7},{"s":"90V","x":-3,"y":5.25e-7},{"s":"90V","x":-2.5,"y":6.8e-7},{"s":"90V","x":-2,"y":8.5e-7},{"s":"90V","x":-1.5,"y":1.05e-6},{"s":"90V","x":-1,"y":1.29e-6},{"s":"90V","x":-0.5,"y":1.55e-6},{"s":"90V","x":0,"y":1.82e-6},{"s":"90V","x":0.5,"y":2.14e-6},{"s":"90V","x":1,"y":2.5e-6},{"s":"90V","x":1.5,"y":2.88e-6},{"s":"90V","x":2,"y":3.31e-6},{"s":"90V","x":2.5,"y":3.8e-6},{"s":"90V","x":3,"y":4.27e-6},{"s":"90V","x":3.5,"y":4.79e-6},{"s":"90V","x":4,"y":5.37e-6},{"s":"90V","x":4.5,"y":6e-6},{"s":"90V","x":5,"y":6.6e-6},{"s":"90V","x":5.5,"y":7.2e-6},{"s":"90V","x":6,"y":7.9e-6},{"s":"90V","x":6.5,"y":8.5e-6},{"s":"90V","x":7,"y":9.1e-6},{"s":"90V","x":7.5,"y":9.8e-6},{"s":"90V","x":8,"y":1.02e-5},{"s":"90V","x":8.5,"y":1.07e-5},{"s":"90V","x":9,"y":1.12e-5},{"s":"90V","x":9.5,"y":1.17e-5},{"s":"90V","x":10,"y":1.2e-5},
{"s":"150V","x":-20,"y":3.2e-12},{"s":"150V","x":-19.5,"y":5e-13},{"s":"150V","x":-19,"y":1e-12},{"s":"150V","x":-18.5,"y":1e-13},{"s":"150V","x":-18,"y":2.5e-13},{"s":"150V","x":-17.5,"y":1e-14},{"s":"150V","x":-17,"y":1e-13},{"s":"150V","x":-16.5,"y":4e-14},{"s":"150V","x":-16,"y":1.6e-13},{"s":"150V","x":-15.5,"y":6.3e-14},{"s":"150V","x":-15,"y":3.2e-14},{"s":"150V","x":-14.5,"y":1e-13},{"s":"150V","x":-14,"y":5e-14},{"s":"150V","x":-13.5,"y":1.26e-13},{"s":"150V","x":-13,"y":6.3e-14},{"s":"150V","x":-12.5,"y":1e-13},{"s":"150V","x":-12,"y":1.6e-13},{"s":"150V","x":-11.5,"y":7.9e-14},{"s":"150V","x":-11,"y":1.26e-13},{"s":"150V","x":-10.5,"y":6.3e-14},{"s":"150V","x":-10,"y":1.6e-14},{"s":"150V","x":-9.5,"y":3.2e-13},{"s":"150V","x":-9,"y":1e-11},{"s":"150V","x":-8.5,"y":1.6e-10},{"s":"150V","x":-8,"y":1.26e-9},{"s":"150V","x":-7,"y":2.5e-8},{"s":"150V","x":-6,"y":1e-7},{"s":"150V","x":-5,"y":2.5e-7},{"s":"150V","x":-4,"y":5e-7},{"s":"150V","x":-3,"y":8.9e-7},{"s":"150V","x":-2,"y":1.41e-6},{"s":"150V","x":-1,"y":2.14e-6},{"s":"150V","x":0,"y":3e-6},{"s":"150V","x":1,"y":4.07e-6},{"s":"150V","x":2,"y":5.4e-6},{"s":"150V","x":3,"y":6.9e-6},{"s":"150V","x":4,"y":8.7e-6},{"s":"150V","x":5,"y":1.07e-5},{"s":"150V","x":6,"y":1.29e-5},{"s":"150V","x":7,"y":1.51e-5},{"s":"150V","x":8,"y":1.74e-5},{"s":"150V","x":9,"y":1.9e-5},{"s":"150V","x":10,"y":2.09e-5},
{"s":"180V","x":-20,"y":2e-12},{"s":"180V","x":-19.5,"y":7.9e-13},{"s":"180V","x":-19,"y":4e-13},{"s":"180V","x":-18.5,"y":2e-13},{"s":"180V","x":-18,"y":1e-13},{"s":"180V","x":-17.5,"y":1.6e-13},{"s":"180V","x":-17,"y":7.9e-14},{"s":"180V","x":-16.5,"y":1.26e-13},{"s":"180V","x":-16,"y":6.3e-14},{"s":"180V","x":-15.5,"y":1e-13},{"s":"180V","x":-15,"y":5e-14},{"s":"180V","x":-14.5,"y":1.6e-14},{"s":"180V","x":-14,"y":7.9e-14},{"s":"180V","x":-13.5,"y":1e-13},{"s":"180V","x":-13,"y":1.6e-13},{"s":"180V","x":-12.5,"y":7.9e-14},{"s":"180V","x":-12,"y":1.26e-13},{"s":"180V","x":-11.5,"y":1e-13},{"s":"180V","x":-11,"y":1.6e-13},{"s":"180V","x":-10.5,"y":1e-13},{"s":"180V","x":-10,"y":1.26e-13},{"s":"180V","x":-9.5,"y":5e-13},{"s":"180V","x":-9,"y":1.26e-11},{"s":"180V","x":-8.5,"y":2e-10},{"s":"180V","x":-8,"y":1.41e-9},{"s":"180V","x":-7,"y":2.8e-8},{"s":"180V","x":-6,"y":1.12e-7},{"s":"180V","x":-5,"y":2.8e-7},{"s":"180V","x":-4,"y":6e-7},{"s":"180V","x":-3,"y":1.12e-6},{"s":"180V","x":-2,"y":1.9e-6},{"s":"180V","x":-1,"y":3e-6},{"s":"180V","x":0,"y":4.47e-6},{"s":"180V","x":1,"y":6.3e-6},{"s":"180V","x":2,"y":8.5e-6},{"s":"180V","x":3,"y":1.1e-5},{"s":"180V","x":4,"y":1.38e-5},{"s":"180V","x":5,"y":1.66e-5},{"s":"180V","x":6,"y":1.95e-5},{"s":"180V","x":7,"y":2.24e-5},{"s":"180V","x":8,"y":2.5e-5},{"s":"180V","x":9,"y":2.75e-5},{"s":"180V","x":10,"y":3e-5},
{"s":"200V","x":-20,"y":4e-12},{"s":"200V","x":-19.5,"y":1.26e-12},{"s":"200V","x":-19,"y":6.3e-13},{"s":"200V","x":-18.5,"y":3.2e-13},{"s":"200V","x":-18,"y":1.6e-13},{"s":"200V","x":-17.5,"y":2.5e-13},{"s":"200V","x":-17,"y":1e-13},{"s":"200V","x":-16.5,"y":2e-13},{"s":"200V","x":-16,"y":7.9e-14},{"s":"200V","x":-15.5,"y":1.26e-13},{"s":"200V","x":-15,"y":1e-13},{"s":"200V","x":-14.5,"y":1.6e-13},{"s":"200V","x":-14,"y":7.9e-14},{"s":"200V","x":-13.5,"y":1.26e-13},{"s":"200V","x":-13,"y":1e-13},{"s":"200V","x":-12.5,"y":1.6e-13},{"s":"200V","x":-12,"y":1.26e-13},{"s":"200V","x":-11.5,"y":7.9e-14},{"s":"200V","x":-11,"y":1.26e-13},{"s":"200V","x":-10.5,"y":1.6e-13},{"s":"200V","x":-10,"y":1e-13},{"s":"200V","x":-9.5,"y":6.3e-13},{"s":"200V","x":-9,"y":1.6e-11},{"s":"200V","x":-8.5,"y":2.5e-10},{"s":"200V","x":-8,"y":1.6e-9},{"s":"200V","x":-7,"y":3.2e-8},{"s":"200V","x":-6,"y":1.26e-7},{"s":"200V","x":-5,"y":3.16e-7},{"s":"200V","x":-4,"y":6.6e-7},{"s":"200V","x":-3,"y":1.26e-6},{"s":"200V","x":-2,"y":2.14e-6},{"s":"200V","x":-1,"y":3.39e-6},{"s":"200V","x":0,"y":5e-6},{"s":"200V","x":1,"y":7.1e-6},{"s":"200V","x":2,"y":9.5e-6},{"s":"200V","x":3,"y":1.23e-5},{"s":"200V","x":4,"y":1.55e-5},{"s":"200V","x":5,"y":1.86e-5},{"s":"200V","x":6,"y":2.19e-5},{"s":"200V","x":7,"y":2.5e-5},{"s":"200V","x":8,"y":2.8e-5},{"s":"200V","x":9,"y":3.16e-5},{"s":"200V","x":10,"y":3.47e-5}
]
},
"concat":[
{
"width":172,"height":147,
"title":{"text":"a","dx":-39},
"data":{"name":"pa"},
"encoding":{
"x":{"field":"x","type":"quantitative","scale":{"domain":[0,201],"nice":false,"zero":false},"axis":{"title":"Drain Voltage (V)","values":[0,50,100,150,200]}},
"y":{"field":"y","type":"quantitative","scale":{"type":"log","domain":[4e-14,1.4e-8],"nice":false},"axis":{"title":"Drain Current (A)","values":[1e-13,1e-12,1e-11,1e-10,1e-9,1e-8],"labelExpr":"'10⁻' + replace(replace(replace(replace(replace(replace(replace(replace(replace(replace(replace('' + (-round(log(datum.value)/LN10)),'0','⁰'),'1','¹'),'1','¹'),'2','²'),'3','³'),'4','⁴'),'5','⁵'),'6','⁶'),'7','⁷'),'8','⁸'),'9','⁹')"}}
},
"layer":[
{"mark":{"type":"line","strokeWidth":1.2},
 "encoding":{"color":{"field":"s","type":"nominal","scale":{"domain":["MZO","m-MZO"],"range":["#ff1a1a","#1a1aff"]},
  "legend":{"orient":"none","legendX":3,"legendY":9,"title":null,"labelExpr":"datum.label + ' HVTFT'","symbolType":"M-2.3,0H-0.4M0.4,0H2.3M-0.4,0A0.4,0.4,0,1,0,0.4,0A0.4,0.4,0,1,0,-0.4,0","symbolSize":100,"symbolOffset":6.5,"labelOffset":7.5,"rowPadding":2,"symbolStrokeWidth":1.3}}}},
{"transform":[{"filter":"datum.s == 'MZO'"}],"mark":{"type":"point","shape":"circle","filled":false,"color":"#ff1a1a","size":14,"strokeWidth":0.8,"opacity":1}},
{"transform":[{"filter":"datum.s == 'm-MZO'"}],"mark":{"type":"square","color":"#1a1aff","size":9,"opacity":1}},
{"transform":[{"filter":"datum.s == 'm-MZO' && datum.x == 200"}],"mark":{"type":"text","align":"left","baseline":"top","fontSize":8,"fontWeight":"bold","lineHeight":10.5,"color":"#000000"},"encoding":{"x":{"datum":102},"y":{"datum":1.03e-10},"text":{"value":["Gate Bias=-20V","Channel Length=10μm"]}}}
]
},
{
"width":171,"height":147,
"title":{"text":"b","dx":-42},
"data":{"name":"pb"},
"mark":{"type":"point","filled":true,"size":8,"opacity":1,"strokeWidth":0},
"encoding":{
"x":{"field":"x","type":"quantitative","scale":{"domain":[-27.5,16.5],"nice":false,"zero":false},"axis":{"title":"Gate Bias (V)","values":[-25,-20,-15,-10,-5,0,5,10,15]}},
"y":{"field":"y","type":"quantitative","scale":{"type":"log","domain":[8.1e-17,3e-3],"nice":false},"axis":{"title":"Drain Current (A)","values":[1e-16,1e-15,1e-14,1e-13,1e-12,1e-11,1e-10,1e-9,1e-8,1e-7,1e-6,1e-5,1e-4],"labelExpr":"round(log(datum.value)/LN10) % 2 == 0 ? '10⁻' + replace(replace(replace(replace(replace(replace(replace(replace(replace(replace(replace('' + (-round(log(datum.value)/LN10)),'0','⁰'),'1','¹'),'1','¹'),'2','²'),'3','³'),'4','⁴'),'5','⁵'),'6','⁶'),'7','⁷'),'8','⁸'),'9','⁹') : ''","tickSize":{"condition":{"test":"round(log(datum.value)/LN10) % 2 != 0","value":-2},"value":-4}}},
"color":{"field":"s","type":"nominal","scale":{"domain":["10","15","25"],"range":["#000000","#ff0000","#1f9f1f"]},
 "legend":{"orient":"none","legendX":101,"legendY":84,"title":["Drain Bias=10V","Channel Length"],"labelExpr":"'L=' + datum.label + ' μm'","symbolSize":10,"symbolOffset":7,"labelOffset":3,"rowPadding":2,"titlePadding":2}},
"shape":{"field":"s","type":"nominal","scale":{"domain":["10","15","25"],"range":["square","triangle-up","diamond"]}}
}
},
{
"width":177,"height":144,
"title":{"text":"c","dx":-41},
"data":{"name":"pc"},
"encoding":{
"x":{"field":"x","type":"quantitative","scale":{"domain":[0,10],"nice":false},"axis":{"title":"Drain Bias (V)","values":[0,2,4,6,8,10]}},
"y":{"field":"y","type":"quantitative","scale":{"domain":[-0.38,8.83],"nice":false,"zero":false},"axis":{"title":"Drain Current (μA)","values":[0,1,2,3,4,5,6,7,8]}}
},
"layer":[
{"mark":{"type":"line","strokeWidth":2},
 "encoding":{
  "color":{"field":"s","type":"nominal","scale":{"domain":["-10","0V","10V"],"range":["#000000","#ee1111","#2222cc"]},
   "legend":{"orient":"none","legendX":2,"legendY":6,"title":null,"labelExpr":"'Drain Current (VGS=' + datum.label + ')'","symbolType":"M-2,0H2","symbolSize":100,"symbolOffset":5,"labelOffset":8,"rowPadding":2.5,"symbolStrokeWidth":2}},
  "strokeDash":{"field":"s","type":"nominal","scale":{"domain":["-10","0V","10V"],"range":[[1,0],[8,2,1.5,2,1.5,2],[8,2.5,2,2.5]]}}}},
{"transform":[{"filter":"datum.s == '10V' && datum.x == 10"}],"mark":{"type":"text","align":"left","baseline":"top","fontSize":8,"fontWeight":"bold","lineHeight":10,"color":"#000000"},"encoding":{"x":{"datum":0.4},"y":{"datum":6.1},"text":{"value":["m-MZO HVTFT","Channel Length=10μm"]}}}
]
},
{
"width":172,"height":142,
"title":{"text":"d","dx":-39},
"data":{"name":"pd"},
"encoding":{
"x":{"field":"x","type":"quantitative","scale":{"domain":[-27.5,16.5],"nice":false,"zero":false},"axis":{"title":"Gate Bias (V)","values":[-25,-20,-15,-10,-5,0,5,10,15]}},
"y":{"field":"y","type":"quantitative","scale":{"type":"log","domain":[6e-17,8e-4],"nice":false},"axis":{"title":"Drain Current (A)","values":[1e-16,1e-15,1e-14,1e-13,1e-12,1e-11,1e-10,1e-9,1e-8,1e-7,1e-6,1e-5,1e-4],"labelExpr":"round(log(datum.value)/LN10) % 2 == 0 ? '10⁻' + replace(replace(replace(replace(replace(replace(replace(replace(replace(replace(replace('' + (-round(log(datum.value)/LN10)),'0','⁰'),'1','¹'),'1','¹'),'2','²'),'3','³'),'4','⁴'),'5','⁵'),'6','⁶'),'7','⁷'),'8','⁸'),'9','⁹') : ''","tickSize":{"condition":{"test":"round(log(datum.value)/LN10) % 2 != 0","value":-2},"value":-4}}},
"color":{"field":"s","type":"nominal","scale":{"domain":["10V","30V","70V"],"range":["#000000","#ff0000","#2ee82e"]},
 "legend":{"orient":"none","legendX":83,"legendY":93,"title":"Channel Length=10 μm","labelExpr":"'Drain Bias=' + datum.label","symbolSize":64,"symbolOffset":9.5,"labelOffset":6.5,"rowPadding":1,"titlePadding":3,"symbolStrokeWidth":1.5}}
},
"layer":[
{"transform":[{"filter":{"field":"s","oneOf":["10V","30V"]}}],"mark":{"type":"point","filled":true,"size":100,"opacity":1,"strokeWidth":0},
 "encoding":{"shape":{"field":"s","type":"nominal","scale":{"domain":["10V","30V","70V"],"range":["M-0.3,-0.3H0.3V0.3H-0.3Z","M0,-0.38L0.36,0.26H-0.36Z","M-2.4,0H2.4"]}}}},
{"transform":[{"filter":{"field":"s","oneOf":["70V"]}}],"mark":{"type":"line","strokeWidth":1.4},
 "encoding":{"strokeDash":{"field":"s","type":"nominal","scale":{"domain":["10V","30V","70V"],"range":[[1,0],[1,0],[1,0]]}}}}
]
},
{
"width":171,"height":142,
"title":{"text":"e","dx":-39},
"data":{"name":"pe"},
"encoding":{
"x":{"field":"x","type":"quantitative","scale":{"domain":[-27.5,16.5],"nice":false,"zero":false},"axis":{"title":"Gate Bias (V)","values":[-25,-20,-15,-10,-5,0,5,10,15]}},
"y":{"field":"y","type":"quantitative","scale":{"type":"log","domain":[6e-17,8e-4],"nice":false},"axis":{"title":"Drain Current (A)","values":[1e-16,1e-15,1e-14,1e-13,1e-12,1e-11,1e-10,1e-9,1e-8,1e-7,1e-6,1e-5,1e-4],"labelExpr":"round(log(datum.value)/LN10) % 2 == 0 ? '10⁻' + replace(replace(replace(replace(replace(replace(replace(replace(replace(replace(replace('' + (-round(log(datum.value)/LN10)),'0','⁰'),'1','¹'),'1','¹'),'2','²'),'3','³'),'4','⁴'),'5','⁵'),'6','⁶'),'7','⁷'),'8','⁸'),'9','⁹') : ''","tickSize":{"condition":{"test":"round(log(datum.value)/LN10) % 2 != 0","value":-2},"value":-4}}},
"color":{"field":"s","type":"nominal","scale":{"domain":["10V","30V","70V","90V","110V"],"range":["#000000","#ff0000","#2ee82e","#2222ee","#3c9a3c"]},
 "legend":{"orient":"none","legendX":86,"legendY":75,"title":"Channel Length=15 μm","labelExpr":"'Drain Bias=' + datum.label","symbolSize":64,"symbolOffset":8,"labelOffset":8,"rowPadding":0.5,"titlePadding":2,"symbolStrokeWidth":1.5}}
},
"layer":[
{"transform":[{"filter":{"field":"s","oneOf":["10V","30V"]}}],"mark":{"type":"point","filled":true,"size":100,"opacity":1,"strokeWidth":0},
 "encoding":{"shape":{"field":"s","type":"nominal","scale":{"domain":["10V","30V","70V","90V","110V"],"range":["M-0.3,-0.3H0.3V0.3H-0.3Z","M0,-0.38L0.36,0.26H-0.36Z","M-2.25,0H2.25","M-2.25,0H2.25","M-2.25,0H2.25"]}}}},
{"transform":[{"filter":{"field":"s","oneOf":["70V","90V","110V"]}}],"mark":{"type":"line","strokeWidth":1.4},
 "encoding":{"strokeDash":{"field":"s","type":"nominal","scale":{"domain":["10V","30V","70V","90V","110V"],"range":[[1,0],[1,0],[1,0],[5,3],[1.5,2.5]]}}}}
]
},
{
"width":171,"height":142,
"title":{"text":"f","dx":-39},
"data":{"name":"pf"},
"encoding":{
"x":{"field":"x","type":"quantitative","scale":{"domain":[-27.5,16.5],"nice":false,"zero":false},"axis":{"title":"Gate Bias (V)","values":[-25,-20,-15,-10,-5,0,5,10,15]}},
"y":{"field":"y","type":"quantitative","scale":{"type":"log","domain":[6e-17,8e-4],"nice":false},"axis":{"title":"Drain Current (A)","values":[1e-16,1e-15,1e-14,1e-13,1e-12,1e-11,1e-10,1e-9,1e-8,1e-7,1e-6,1e-5,1e-4],"labelExpr":"round(log(datum.value)/LN10) % 2 == 0 ? '10⁻' + replace(replace(replace(replace(replace(replace(replace(replace(replace(replace(replace('' + (-round(log(datum.value)/LN10)),'0','⁰'),'1','¹'),'1','¹'),'2','²'),'3','³'),'4','⁴'),'5','⁵'),'6','⁶'),'7','⁷'),'8','⁸'),'9','⁹') : ''","tickSize":{"condition":{"test":"round(log(datum.value)/LN10) % 2 != 0","value":-2},"value":-4}}},
"color":{"field":"s","type":"nominal","scale":{"domain":["50V","90V","150V","180V","200V"],"range":["#000000","#ff0000","#2ee82e","#2222ee","#3c9a3c"]},
 "legend":{"orient":"none","legendX":85,"legendY":75,"title":"Channel Length=25 μm","labelExpr":"'Drain Bias=' + datum.label","symbolSize":64,"symbolOffset":11,"labelOffset":8,"rowPadding":0.5,"titlePadding":2,"symbolStrokeWidth":1.5}}
},
"layer":[
{"transform":[{"filter":{"field":"s","oneOf":["50V","90V"]}}],"mark":{"type":"point","filled":true,"size":100,"opacity":1,"strokeWidth":0},
 "encoding":{"shape":{"field":"s","type":"nominal","scale":{"domain":["50V","90V","150V","180V","200V"],"range":["M-0.3,-0.3H0.3V0.3H-0.3Z","M0,-0.38L0.36,0.26H-0.36Z","M-2.25,0H2.25","M-2.25,0H2.25","M-2.25,0H2.25"]}}}},
{"transform":[{"filter":{"field":"s","oneOf":["150V","180V","200V"]}}],"mark":{"type":"line","strokeWidth":1.4},
 "encoding":{"strokeDash":{"field":"s","type":"nominal","scale":{"domain":["50V","90V","150V","180V","200V"],"range":[[1,0],[1,0],[1,0],[5,3],[1.5,2.5]]}}}}
]
}
],
"config":{
"font":"Liberation Sans",
"view":{"stroke":"#000000","strokeWidth":1.2},
"axis":{"domainColor":"#000000","domainWidth":1.2,"tickColor":"#000000","tickSize":-4,"tickWidth":1,"labelPadding":6,"labelFont":"Liberation Sans","labelFontSize":8,"labelFontWeight":"bold","labelColor":"#000000","labelFlush":false,"labelOverlap":false,"titleFont":"Liberation Sans","titleFontSize":8.5,"titleFontWeight":"bold","titleColor":"#000000","grid":false,"titlePadding":1.5},
"legend":{"labelFont":"Liberation Sans","labelFontSize":8,"labelFontWeight":"bold","labelColor":"#000000","titleFont":"Liberation Sans","titleFontSize":8,"titleFontWeight":"bold","titleColor":"#000000","padding":0,"offset":0,"labelLimit":300,"titleLimit":300},
"title":{"font":"Liberation Sans","fontSize":18,"fontWeight":"bold","anchor":"start","frame":"group","baseline":"alphabetic","offset":6,"color":"#000000"}
}
}
